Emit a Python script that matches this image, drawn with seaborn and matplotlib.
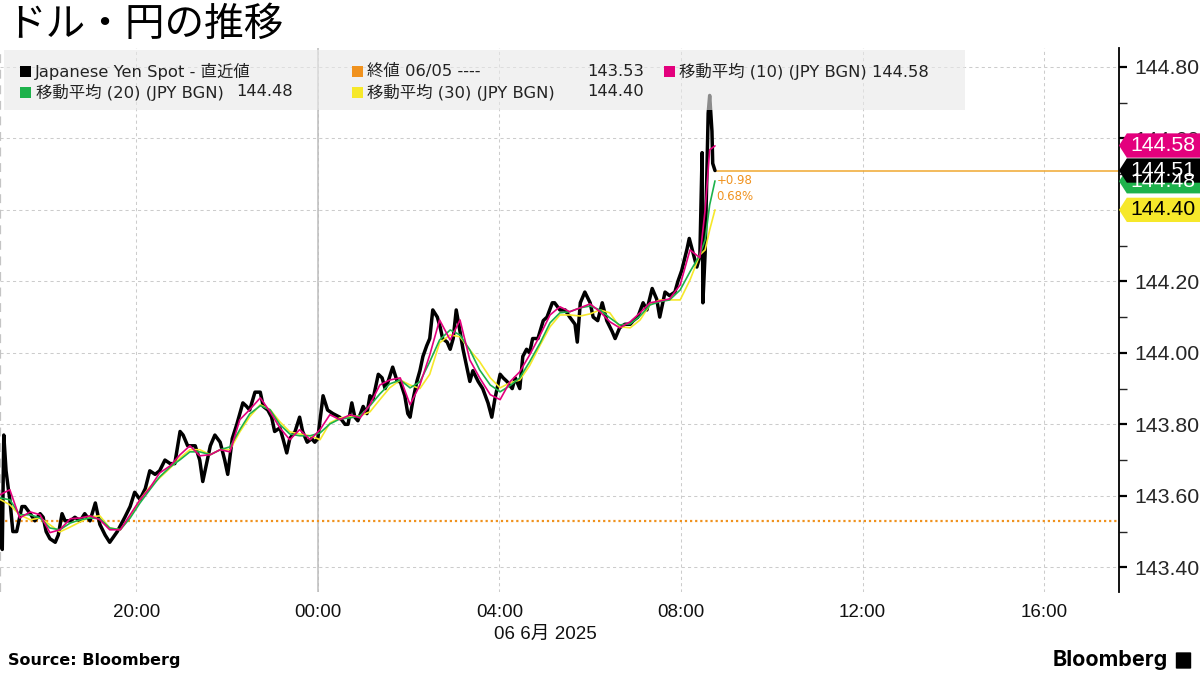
import numpy as np
import pandas as pd
import matplotlib
matplotlib.use("Agg")
import matplotlib.pyplot as plt
import matplotlib.dates as mdates
import matplotlib.patches as mpatches
import matplotlib.transforms as mtransforms
from matplotlib.ticker import MultipleLocator, FormatStrFormatter
import seaborn as sns

# minutes after 17:00 on 5 June 2025
start = pd.Timestamp("2025-06-05 17:00")

spot_min = [0, 3, 5, 8, 11, 13, 17, 22, 29, 33,
            40, 46, 53, 57, 61, 66, 73, 77, 82, 86,
            93, 99, 106, 112, 119, 126, 132, 139, 145, 155,
            165, 172, 178, 185, 192, 198, 205, 211, 218, 225,
            231, 238, 242, 248, 258, 264, 268, 272, 278, 284,
            291, 297, 301, 307, 313, 321, 326, 330, 337, 344,
            348, 354, 359, 363, 370, 374, 379, 383, 390, 396,
            400, 406, 412, 416, 420, 427, 433, 440, 449, 456,
            460, 465, 469, 473, 480, 485, 489, 493, 500, 505,
            509, 513, 519, 525, 529, 535, 539, 542, 546, 551,
            555, 559, 564, 568, 572, 578, 582, 585, 591, 595,
            599, 603, 608, 612, 617, 621, 625, 632, 638, 645,
            650, 654, 661, 665, 670, 677, 681, 687, 691, 696,
            700, 704, 711, 718, 723, 730, 733, 740, 747, 753,
            760, 763, 767, 773, 780, 784, 790, 796, 802, 809,
            813, 819, 826, 833, 837, 843, 850, 855, 862, 868,
            872, 875, 879, 885, 892, 896, 901, 908, 911, 916,
            921, 925, 928, 929, 932, 934, 936, 938, 941, 942,
            945]
spot_px = [143.59, 143.45, 143.77, 143.67, 143.62, 143.59, 143.50, 143.50, 143.57, 143.57,
           143.55, 143.53, 143.55, 143.54, 143.50, 143.48, 143.47, 143.49, 143.55, 143.53,
           143.53, 143.54, 143.53, 143.55, 143.53, 143.58, 143.52, 143.49, 143.47, 143.50,
           143.54, 143.57, 143.61, 143.59, 143.62, 143.67, 143.66, 143.67, 143.70, 143.69,
           143.69, 143.78, 143.77, 143.74, 143.74, 143.70, 143.64, 143.68, 143.74, 143.77,
           143.75, 143.70, 143.66, 143.76, 143.80, 143.86, 143.85, 143.84, 143.89, 143.89,
           143.85, 143.84, 143.82, 143.78, 143.79, 143.76, 143.72, 143.76, 143.78, 143.82,
           143.78, 143.75, 143.76, 143.75, 143.76, 143.88, 143.84, 143.83, 143.82, 143.80,
           143.80, 143.86, 143.82, 143.81, 143.85, 143.83, 143.88, 143.87, 143.94, 143.93,
           143.90, 143.92, 143.96, 143.92, 143.92, 143.88, 143.83, 143.82, 143.87, 143.92,
           143.95, 143.99, 144.02, 144.04, 144.12, 144.10, 144.07, 144.04, 144.03, 144.01,
           144.04, 144.12, 144.06, 144.01, 143.96, 143.92, 143.95, 143.92, 143.90, 143.86,
           143.82, 143.87, 143.94, 143.93, 143.92, 143.90, 143.93, 143.90, 143.99, 144.01,
           144.00, 144.04, 144.04, 144.09, 144.10, 144.14, 144.14, 144.12, 144.12, 144.10,
           144.08, 144.03, 144.14, 144.17, 144.14, 144.10, 144.09, 144.14, 144.09, 144.06,
           144.04, 144.07, 144.08, 144.08, 144.09, 144.10, 144.14, 144.12, 144.18, 144.15,
           144.10, 144.13, 144.17, 144.16, 144.17, 144.20, 144.23, 144.29, 144.32, 144.28,
           144.24, 144.27, 144.56, 144.14, 144.28, 144.48, 144.67, 144.72, 144.62, 144.53,
           144.51]

ma_min = [0, 13, 26, 40, 53, 66, 79, 93, 106, 119,
          132, 145, 159, 172, 185, 198, 211, 225, 238, 251,
          264, 278, 291, 304, 317, 330, 344, 357, 370, 383,
          396, 410, 423, 436, 449, 463, 476, 489, 502, 515,
          529, 542, 555, 568, 581, 595, 608, 621, 634, 648,
          661, 674, 687, 700, 714, 727, 740, 753, 767, 780,
          793, 806, 819, 833, 846, 859, 872, 885, 899, 912,
          925, 932, 938, 945]
ma10 = [143.603, 143.617, 143.538, 143.555, 143.547, 143.497, 143.505, 143.536, 143.538, 143.544,
        143.533, 143.505, 143.505, 143.547, 143.589, 143.622, 143.664, 143.684, 143.715, 143.740,
        143.712, 143.715, 143.729, 143.723, 143.813, 143.841, 143.874, 143.835, 143.790, 143.757,
        143.785, 143.757, 143.785, 143.827, 143.813, 143.827, 143.818, 143.855, 143.910, 143.924,
        143.930, 143.855, 143.910, 143.994, 144.092, 144.036, 144.092, 143.980, 143.930, 143.883,
        143.869, 143.919, 143.947, 143.994, 144.050, 144.106, 144.129, 144.115, 144.126, 144.137,
        144.115, 144.087, 144.070, 144.087, 144.112, 144.140, 144.145, 144.151, 144.190, 144.288,
        144.266, 144.400, 144.568, 144.579]
ma20 = [143.594, 143.589, 143.547, 143.547, 143.538, 143.510, 143.505, 143.524, 143.533, 143.538,
        143.536, 143.510, 143.505, 143.538, 143.580, 143.617, 143.653, 143.681, 143.701, 143.723,
        143.723, 143.715, 143.729, 143.737, 143.785, 143.829, 143.852, 143.841, 143.799, 143.773,
        143.768, 143.768, 143.776, 143.801, 143.815, 143.818, 143.824, 143.852, 143.885, 143.913,
        143.924, 143.902, 143.919, 143.975, 144.036, 144.064, 144.050, 144.008, 143.952, 143.910,
        143.891, 143.908, 143.930, 143.975, 144.028, 144.084, 144.112, 144.115, 144.126, 144.131,
        144.120, 144.098, 144.078, 144.081, 144.103, 144.134, 144.143, 144.148, 144.176, 144.227,
        144.274, 144.316, 144.414, 144.481]
ma30 = [143.590, 143.575, 143.547, 143.533, 143.538, 143.519, 143.499, 143.513, 143.527, 143.541,
        143.544, 143.510, 143.505, 143.541, 143.589, 143.625, 143.650, 143.678, 143.706, 143.729,
        143.729, 143.715, 143.729, 143.729, 143.779, 143.821, 143.855, 143.841, 143.807, 143.779,
        143.773, 143.768, 143.757, 143.804, 143.818, 143.821, 143.824, 143.835, 143.869, 143.902,
        143.924, 143.910, 143.900, 143.940, 144.028, 144.050, 144.045, 144.008, 143.975, 143.930,
        143.902, 143.916, 143.924, 143.964, 144.022, 144.073, 144.106, 144.106, 144.103, 144.109,
        144.120, 144.112, 144.073, 144.070, 144.092, 144.134, 144.148, 144.148, 144.148, 144.204,
        144.274, 144.288, 144.344, 144.400]

prev_close = 143.53
last_px = 144.51
ma_last = {"10": 144.58, "20": 144.48, "30": 144.40}
change_txt = "+0.98"
change_pct = "0.68%"

spot_df = pd.DataFrame({"time": start + pd.to_timedelta(spot_min, unit="min"), "price": spot_px})
ma_df = pd.DataFrame({"time": start + pd.to_timedelta(ma_min, unit="min"),
                      "30": ma30, "20": ma20, "10": ma10})
ma_long = ma_df.melt(id_vars="time", var_name="ma", value_name="price")

ma_colors = {"10": "#e3007d", "20": "#1db24b", "30": "#f6e82a"}
orange = "#f0921e"
legend_font = ["DejaVu Sans", "Noto Sans CJK JP"]

sns.set_style("white")
plt.rcParams["font.family"] = ["Liberation Sans", "Noto Sans CJK JP", "DejaVu Sans"]

fig = plt.figure(figsize=(12, 6.75), dpi=100)
ax = fig.add_axes([0.0, 0.123, 0.9325, 0.806])

x0 = start
x1 = start + pd.Timedelta(minutes=1479)

sns.lineplot(data=spot_df, x="time", y="price", color="black", lw=2.5,
             estimator=None, ax=ax, zorder=3)
sns.lineplot(data=ma_long, x="time", y="price", hue="ma", palette=ma_colors,
             hue_order=["30", "20", "10"], lw=1.2, estimator=None, legend=False,
             ax=ax, zorder=4)

# previous close and last price lines
ax.axhline(prev_close, color=orange, ls=(0, (1, 1.3)), lw=1.6, zorder=2)
ax.hlines(last_px, spot_df["time"].iloc[-1], x1, color="#f0a830", lw=1.1, zorder=2)
ax.annotate(change_txt, (spot_df["time"].iloc[-1], last_px), xytext=(1, -7),
            textcoords="offset points", color=orange, fontsize=8.5, va="center",
            family=legend_font)
ax.annotate(change_pct, (spot_df["time"].iloc[-1], last_px), xytext=(1, -19),
            textcoords="offset points", color=orange, fontsize=8.5, va="center",
            family=legend_font)

ax.set_xlim(x0, x1)
ax.set_ylim(143.331, 144.853)

ax.xaxis.set_major_locator(mdates.HourLocator(byhour=[0, 4, 8, 12, 16, 20]))
ax.xaxis.set_major_formatter(mdates.DateFormatter("%H:%M"))
ax.yaxis.tick_right()
ax.yaxis.set_major_locator(MultipleLocator(0.2))
ax.yaxis.set_minor_locator(MultipleLocator(0.1))
ax.yaxis.set_major_formatter(FormatStrFormatter("%.2f"))
ax.tick_params(axis="x", length=0, pad=9, labelsize=13.5, labelcolor="#111111")
ax.tick_params(axis="y", which="major", length=6, width=1.6, pad=5, labelsize=15.3,
               direction="out", color="black", right=True, left=False)
ax.tick_params(axis="y", which="minor", length=6, width=1, right=True, left=False)
ax.set_xlabel("")
ax.set_ylabel("")

ax.grid(True, which="major", axis="both", color="#cccccc", ls=(0, (3, 3)), lw=0.75)
ax.axvline(pd.Timestamp("2025-06-06 00:00"), color="#bdbdbd", lw=1.1, zorder=1)
ax.axvline(x0, color="#c4c4c4", ls=(0, (4, 3)), lw=1.6, zorder=1)

for side in ["top", "left", "bottom"]:
    ax.spines[side].set_visible(False)
ax.spines["right"].set_color("black")
ax.spines["right"].set_linewidth(1.3)

# price tags on the right axis
blend = mtransforms.blended_transform_factory(ax.transAxes, ax.transData)


def price_tag(val, face, txt_color):
    h = 0.034
    verts = [(1.0, val), (1.007, val + h), (1.1, val + h), (1.1, val - h), (1.007, val - h)]
    ax.add_patch(mpatches.Polygon(verts, closed=True, transform=blend, facecolor=face,
                                  edgecolor="none", clip_on=False, zorder=10))
    ax.text(1.0105, val, f"{val:.2f}", transform=blend, color=txt_color, fontsize=15.3,
            va="center", ha="left", clip_on=False, zorder=11)


price_tag(ma_last["20"], ma_colors["20"], "white")
price_tag(ma_last["30"], ma_colors["30"], "black")
price_tag(last_px, "black", "white")
price_tag(ma_last["10"], ma_colors["10"], "white")

# legend panel (semi-transparent, over the lines)
ax.add_patch(mpatches.Rectangle((0.004, 0.886), 0.858, 0.11, transform=ax.transAxes,
                                facecolor="#e9e9e9", alpha=0.6, edgecolor="none",
                                zorder=8, clip_on=False))


def fx(px):
    return px / 1200


def fy(py):
    return 1 - py / 675


def swatch(px, py, color):
    fig.patches.append(mpatches.Rectangle((fx(px), fy(py + 5.5)), 11 / 1200, 11 / 675,
                                          transform=fig.transFigure, facecolor=color,
                                          edgecolor="none", zorder=20))


def legend_text(px, py, s, ha="left"):
    fig.text(fx(px), fy(py), s, fontsize=11.8, va="center", ha=ha, color="#222222",
             family=legend_font)


swatch(20, 71, "black")
legend_text(35, 71, "Japanese Yen Spot - 直近値")
swatch(352, 71, orange)
legend_text(367, 71, "終値 06/05 ----")
legend_text(644, 71, f"{prev_close:.2f}", ha="right")
swatch(664, 71, ma_colors["10"])
legend_text(679, 71, f"移動平均 (10) (JPY BGN) {ma_last['10']:.2f}")
swatch(20, 92, ma_colors["20"])
legend_text(36, 92, "移動平均 (20) (JPY BGN)")
legend_text(293, 92, f"{ma_last['20']:.2f}", ha="right")
swatch(352, 92, ma_colors["30"])
legend_text(367, 92, "移動平均 (30) (JPY BGN)")
legend_text(644, 92, f"{ma_last['30']:.2f}", ha="right")

# title, date label, footer
fig.text(fx(6), fy(25), "ドル・円の推移", fontsize=28.5, va="center", ha="left", color="black",
         family=["Noto Sans CJK JP"])
fig.text(fx(545), fy(634), "06 6月 2025", fontsize=13.5, va="center", ha="center", color="#111111")
fig.text(fx(8), fy(661), "Source: Bloomberg", fontsize=11.5, fontweight="bold",
         family=["DejaVu Sans"], va="center", ha="left", color="black")
fig.text(fx(1168), fy(660), "Bloomberg", fontsize=15.5, fontweight="bold",
         family=["Inter", "DejaVu Sans"], va="center", ha="right", color="black")
fig.patches.append(mpatches.FancyBboxPatch((fx(1177), fy(668)), 13 / 1200, 15 / 675,
                                           boxstyle="round,pad=0.001", transform=fig.transFigure,
                                           facecolor="black", edgecolor="none"))

plt.savefig("out.png", dpi=100)
